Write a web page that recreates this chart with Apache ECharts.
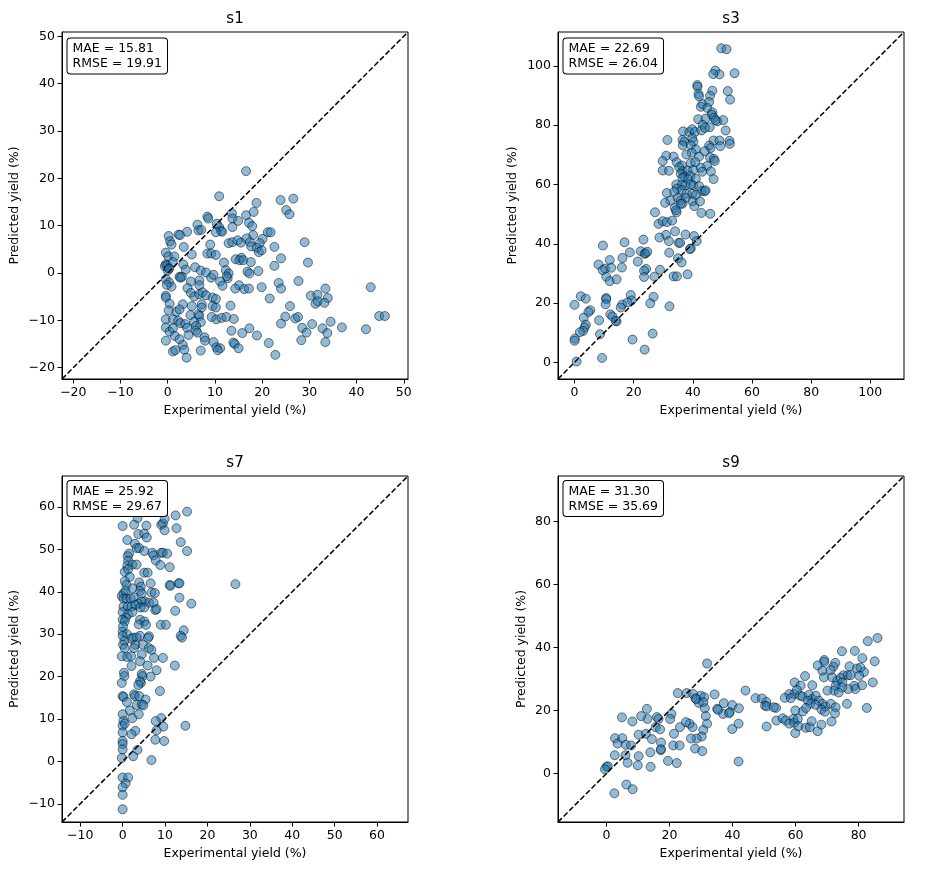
<!DOCTYPE html>
<html>
<head>
<meta charset="utf-8">
<script src="https://cdn.jsdelivr.net/npm/echarts@6/dist/echarts.min.js"></script>
<style>
html,body{margin:0;padding:0;background:#fff;}
#chart{width:938px;height:875px;}
</style>
</head>
<body>
<div id="chart"></div>
<script>
// ---------------- DATA ----------------
const panelNames = ['s1', 's3', 's7', 's9'];
const maeValues = ['15.81', '22.69', '25.92', '31.30'];
const rmseValues = ['19.91', '26.04', '29.67', '35.69'];

const s1Limits = [-22.4, 50.9];
const s3Limits = [-5.6, 111.4];
const s7Limits = [-14.3, 67.3];
const s9Limits = [-15.4, 94.4];

const s1Ticks = [-20, -10, 0, 10, 20, 30, 40, 50];
const s3Ticks = [0, 20, 40, 60, 80, 100];
const s7Ticks = [-10, 0, 10, 20, 30, 40, 50, 60];
const s9Ticks = [0, 20, 40, 60, 80];

// [experimental yield, predicted yield]
const s1Points = [[16.6,21.5],[10.9,16.2],[23.9,15.4],[26.6,15.7],[18.8,14.8],[25.1,13.3],[25.8,12.4],[13.6,12.6],[8.4,11.9],[8.6,11.5],[16.6,12.2],[18.2,12.9],[13.7,11.5],[14.9,11.0],[17.2,10.6],[17.9,9.9],[6.3,10.2],[10.4,10.4],[10.9,9.7],[11.3,8.9],[11.5,8.7],[6.5,9.0],[7.1,9.1],[4.1,8.7],[2.3,8.1],[2.6,8.0],[0.2,7.8],[13.7,9.7],[10.2,8.6],[21.2,8.6],[21.8,8.6],[18.1,8.0],[20.1,7.2],[19.5,6.3],[0.5,6.7],[0.8,6.0],[9.0,6.0],[12.9,6.3],[13.7,6.5],[14.8,6.9],[15.5,6.4],[16.7,7.3],[17.4,6.5],[29.0,6.5],[3.4,5.5],[17.7,5.6],[18.9,5.3],[19.3,4.4],[19.9,4.8],[22.6,5.5],[-0.4,4.3],[0.1,3.5],[1.4,3.5],[5.1,3.9],[8.4,4.1],[9.2,4.1],[10.2,3.8],[14.4,2.9],[15.6,3.2],[15.2,2.7],[16.0,2.7],[17.6,2.3],[24.0,3.1],[29.7,2.2],[-0.4,1.8],[-0.6,1.4],[-0.1,1.6],[0.2,1.0],[1.1,2.3],[3.3,1.8],[3.8,0.7],[5.8,1.2],[7.0,0.5],[8.1,0.1],[11.9,2.2],[12.3,0.6],[12.9,-0.1],[12.7,-1.1],[12.5,-0.7],[16.9,0.3],[17.3,-0.1],[19.2,0.4],[22.6,1.5],[2.5,-0.8],[3.0,-0.8],[2.7,-1.0],[-0.4,-1.3],[0.3,-2.0],[0.8,-2.9],[4.9,-1.8],[6.7,-1.6],[6.7,-2.6],[9.2,-1.0],[9.7,-0.4],[11.1,-1.8],[11.6,-2.7],[15.1,-2.6],[16.2,-3.4],[17.2,-3.3],[14.3,-3.3],[19.9,-3.0],[23.5,-2.1],[24.0,-3.3],[27.7,-1.7],[43.0,-3.0],[4.2,-3.2],[4.9,-4.2],[5.6,-5.0],[6.7,-4.5],[7.4,-4.1],[8.1,-4.7],[9.5,-5.2],[10.2,-5.5],[9.5,-7.0],[10.2,-7.3],[-0.4,-4.8],[-0.4,-5.2],[0.4,-6.5],[3.2,-6.6],[21.6,-5.4],[30.3,-4.8],[31.7,-4.6],[33.4,-3.3],[33.9,-5.3],[31.3,-6.5],[31.8,-6.0],[33.2,-6.3],[25.9,-7.0],[13.3,-6.9],[7.2,-6.6],[7.2,-7.3],[5.1,-7.0],[4.8,-8.9],[1.8,-8.2],[2.5,-7.7],[0.2,-7.9],[6.5,-8.7],[6.7,-9.1],[7.0,-10.4],[5.6,-10.3],[6.0,-11.2],[9.3,-9.3],[10.3,-9.8],[11.4,-9.5],[12.4,-9.3],[14.0,-9.7],[-0.4,-9.8],[-0.4,-11.5],[1.1,-9.8],[2.2,-10.1],[2.7,-10.6],[3.7,-10.8],[4.1,-11.6],[24.0,-10.7],[24.9,-9.2],[27.0,-9.6],[27.6,-9.3],[28.5,-11.6],[29.4,-12.6],[30.6,-10.8],[32.8,-11.7],[33.8,-12.7],[34.5,-10.3],[36.9,-11.5],[42.0,-11.9],[44.8,-9.1],[46.0,-9.1],[17.3,-11.7],[15.8,-12.7],[18.9,-13.2],[13.5,-12.2],[-0.4,-14.3],[0.4,-12.4],[1.1,-11.7],[1.5,-13.3],[2.5,-14.0],[4.4,-13.1],[6.0,-12.2],[6.3,-12.6],[7.8,-13.6],[7.9,-14.3],[9.7,-14.6],[10.3,-15.7],[11.1,-15.9],[10.6,-16.3],[13.9,-14.7],[14.2,-15.0],[15.0,-15.9],[21.4,-14.8],[22.8,-17.3],[28.3,-14.2],[33.4,-14.6],[1.1,-16.6],[1.6,-16.3],[3.2,-15.2],[3.5,-16.2],[4.0,-17.9],[7.0,-16.4],[0.0,0.5],[0.3,0.9],[-0.2,-2.5]];

const s3Points = [[49.6,105.9],[51.4,105.6],[47.6,98.4],[49.0,97.1],[46.9,97.2],[54.1,97.5],[41.5,93.5],[41.6,92.9],[41.9,90.5],[42.1,89.7],[46.6,91.6],[45.8,89.9],[51.8,91.5],[52.6,88.6],[42.7,86.2],[43.3,87.1],[45.5,87.8],[44.9,85.8],[46.6,84.3],[46.4,83.5],[47.1,82.5],[48.3,81.3],[41.8,82.0],[44.3,82.2],[50.3,81.7],[43.3,80.1],[45.7,79.3],[47.7,81.7],[36.7,77.9],[38.8,77.7],[39.8,78.6],[40.7,77.7],[42.9,78.2],[44.1,79.1],[51.1,78.2],[31.4,75.0],[36.5,75.0],[37.1,74.4],[39.8,75.6],[40.2,74.4],[47.0,74.8],[49.0,74.8],[52.4,74.7],[52.5,73.7],[36.6,73.2],[39.3,73.2],[45.5,73.1],[46.0,72.3],[49.3,72.9],[41.0,71.8],[39.6,70.7],[44.0,71.2],[42.1,69.4],[37.8,70.1],[31.0,69.7],[33.5,69.4],[45.8,69.1],[47.1,68.6],[47.4,67.9],[29.8,67.9],[29.8,64.7],[34.5,67.5],[36.3,66.4],[39.3,67.2],[40.8,67.5],[31.9,64.6],[35.4,65.8],[36.5,64.5],[38.2,64.6],[44.8,66.2],[40.1,64.9],[42.7,65.6],[43.2,64.3],[46.1,64.4],[35.9,63.6],[37.1,62.7],[39.2,62.8],[47.0,61.8],[36.5,62.2],[38.5,61.7],[41.0,61.9],[40.1,59.7],[34.4,60.0],[36.3,59.8],[37.6,59.7],[39.3,60.0],[42.1,59.4],[43.0,57.8],[44.0,57.7],[44.3,58.0],[34.6,58.6],[36.3,58.1],[31.2,57.1],[33.7,57.6],[37.8,56.9],[39.8,56.8],[41.0,56.4],[34.9,55.4],[35.9,54.6],[32.4,54.6],[37.6,55.4],[30.6,53.8],[39.9,54.3],[40.5,52.7],[42.4,54.3],[33.9,52.1],[34.5,50.6],[34.3,51.3],[36.5,53.5],[35.9,53.5],[27.2,50.6],[42.9,50.4],[45.9,50.1],[28.4,46.7],[29.8,47.6],[31.2,47.3],[33.0,47.8],[30.9,43.0],[28.7,42.1],[34.0,44.2],[37.5,43.1],[40.4,42.6],[31.9,40.9],[35.2,40.3],[35.7,40.3],[41.3,40.9],[39.3,38.4],[39.0,38.2],[9.6,39.4],[16.9,40.5],[23.3,41.4],[18.7,37.1],[22.4,37.5],[23.7,36.6],[24.0,36.8],[24.6,37.3],[32.0,37.0],[16.2,35.2],[11.9,34.5],[21.4,34.0],[35.0,35.1],[36.2,33.7],[8.1,33.0],[10.3,31.6],[9.5,31.1],[12.4,31.9],[16.0,32.0],[24.2,31.5],[23.5,30.9],[28.9,31.2],[33.5,29.0],[10.7,28.9],[11.9,27.4],[14.2,28.0],[23.5,28.8],[27.0,28.9],[34.6,29.0],[38.2,29.7],[2.1,22.3],[3.8,21.5],[10.7,21.7],[10.7,21.3],[19.0,22.7],[19.3,20.9],[26.7,22.1],[16.1,19.5],[15.6,18.5],[10.5,19.6],[0.0,19.4],[5.3,17.6],[4.7,17.0],[17.9,20.2],[25.6,19.9],[32.1,18.9],[12.1,16.2],[12.8,15.5],[14.2,13.8],[13.9,14.0],[3.1,15.1],[8.3,14.2],[3.8,12.7],[3.4,11.8],[2.9,10.6],[1.8,10.2],[0.1,8.0],[0.0,7.3],[8.6,9.5],[26.4,9.7],[19.6,7.7],[23.7,4.3],[9.3,1.5],[0.7,0.3]];

const s7Points = [[0.0,55.5],[3.5,57.4],[2.7,55.8],[3.7,53.6],[5.6,55.6],[9.1,55.8],[9.5,56.1],[9.9,54.5],[9.9,57.2],[12.5,58.0],[15.2,58.9],[12.7,55.0],[5.1,53.7],[5.7,52.8],[1.1,52.2],[2.9,51.3],[3.3,50.3],[3.9,50.3],[13.7,51.7],[15.2,49.6],[1.5,49.0],[1.2,48.4],[5.1,49.6],[7.0,49.2],[7.3,48.6],[9.1,49.2],[9.5,49.2],[10.5,49.0],[1.3,47.3],[1.1,46.1],[2.3,46.4],[3.3,46.4],[7.8,47.4],[8.9,46.3],[11.1,45.8],[0.5,44.7],[1.3,45.3],[5.1,44.5],[5.9,44.5],[1.7,43.5],[0.5,42.5],[0.9,41.6],[6.6,42.0],[11.1,41.6],[11.3,41.4],[13.2,42.0],[13.4,42.0],[26.6,41.8],[3.9,42.2],[4.3,41.2],[4.1,40.2],[4.5,39.6],[0.2,39.6],[-0.2,39.0],[0.7,40.2],[2.3,40.8],[6.8,39.8],[7.6,39.7],[0.2,38.4],[0.9,38.4],[1.9,38.4],[2.6,38.6],[5.2,37.7],[6.2,37.4],[4.5,37.7],[7.3,37.4],[13.4,38.6],[16.2,37.2],[3.7,37.2],[0.2,36.5],[1.2,36.5],[2.1,36.5],[3.0,36.9],[4.2,36.3],[5.1,36.3],[7.7,35.7],[8.0,35.9],[12.4,35.5],[0.0,35.2],[1.3,34.7],[2.3,35.2],[0.7,33.9],[4.1,33.4],[5.1,33.0],[3.8,32.3],[5.5,32.2],[0.0,33.4],[0.5,33.0],[0.1,31.8],[9.0,32.2],[10.2,32.2],[14.4,30.9],[13.7,29.6],[14.0,29.2],[0.0,30.6],[1.0,30.0],[0.0,29.6],[2.5,29.2],[2.1,28.9],[4.1,29.6],[3.3,29.2],[6.2,29.5],[6.0,29.1],[0.4,28.4],[0.1,27.5],[0.5,26.7],[3.0,27.5],[2.7,26.7],[4.8,27.5],[6.2,26.7],[6.8,26.3],[7.4,24.4],[-0.2,24.8],[1.1,24.6],[2.0,24.8],[4.5,25.2],[4.1,23.6],[2.1,22.5],[9.5,24.4],[12.3,22.6],[5.9,22.6],[8.0,21.5],[0.3,20.9],[0.4,20.1],[-0.2,18.5],[4.5,20.6],[4.7,20.1],[4.3,18.5],[4.1,18.9],[3.7,18.0],[6.6,20.0],[8.8,16.6],[0.0,15.4],[0.2,15.2],[1.0,14.0],[2.7,15.8],[2.9,15.4],[3.9,15.4],[5.4,14.6],[3.3,13.3],[4.5,13.4],[4.9,13.2],[1.7,12.0],[2.3,10.2],[3.8,11.1],[0.0,11.1],[0.2,9.5],[0.0,8.4],[0.5,8.9],[9.1,10.2],[7.8,9.5],[9.6,8.2],[14.8,8.4],[8.0,7.3],[3.0,7.2],[2.1,6.4],[0.0,6.8],[0.0,4.8],[7.7,5.1],[9.8,4.8],[0.0,4.1],[0.0,2.8],[-0.2,0.8],[3.5,2.7],[2.5,1.2],[6.8,0.3],[0.0,-3.8],[1.3,-3.8],[0.7,-5.2],[0.0,-6.1],[0.0,-7.9],[0.0,-11.3]];

const s9Points = [[86.0,43.0],[82.9,42.0],[74.7,38.8],[78.8,38.9],[81.2,36.6],[85.1,35.6],[69.1,36.0],[69.1,35.4],[67.0,34.3],[72.6,35.1],[77.1,34.0],[79.5,33.3],[81.7,32.2],[80.6,33.6],[72.0,33.9],[71.1,32.8],[68.5,32.6],[63.0,30.9],[31.9,34.9],[75.2,31.2],[76.5,31.1],[77.4,31.2],[80.2,31.0],[69.0,30.5],[71.6,30.5],[73.2,29.4],[74.3,30.3],[74.8,28.9],[59.7,28.9],[61.6,27.9],[65.3,28.0],[81.1,28.0],[84.5,28.9],[78.6,27.8],[79.0,26.8],[76.7,26.8],[72.7,27.8],[74.8,27.3],[72.2,26.3],[70.1,26.3],[73.7,25.7],[44.1,26.3],[22.6,25.5],[25.4,25.5],[27.5,25.2],[29.9,24.7],[34.3,25.1],[28.2,23.8],[29.3,22.4],[28.5,23.6],[31.0,24.2],[30.7,22.6],[58.0,25.2],[59.6,25.2],[60.4,26.5],[61.4,24.7],[56.6,24.0],[58.5,23.9],[62.2,24.4],[64.3,25.0],[65.3,23.6],[66.4,24.7],[67.4,23.1],[68.5,22.1],[69.5,21.2],[63.9,23.1],[64.7,22.1],[66.4,21.8],[68.2,20.3],[76.3,22.1],[82.6,20.8],[71.2,22.1],[72.7,21.0],[69.3,19.6],[47.3,23.9],[49.3,23.8],[50.7,22.7],[50.3,21.5],[50.9,21.3],[53.8,20.8],[53.1,21.0],[37.2,22.3],[39.9,21.7],[42.0,20.7],[39.1,19.5],[37.0,18.9],[38.9,19.1],[31.2,20.7],[31.5,18.2],[35.1,20.5],[35.4,20.2],[62.3,19.7],[63.3,20.8],[59.9,20.0],[59.3,17.3],[53.9,16.8],[55.9,17.5],[56.9,16.8],[58.0,15.8],[59.6,16.1],[59.9,12.8],[60.7,17.3],[60.9,15.0],[63.2,14.5],[64.5,14.7],[65.1,16.6],[67.0,13.4],[68.2,15.5],[71.4,16.5],[72.5,19.1],[50.8,14.9],[39.9,14.1],[41.9,15.8],[41.9,3.8],[31.9,15.8],[30.7,13.8],[30.2,11.7],[28.6,11.1],[27.3,14.7],[26.3,15.8],[25.2,16.3],[26.8,11.1],[28.1,7.9],[30.4,7.1],[23.3,14.7],[21.4,12.6],[21.2,8.9],[23.2,8.9],[19.5,4.0],[22.3,3.3],[20.6,18.9],[20.2,17.3],[16.0,17.9],[16.5,17.3],[15.6,14.7],[17.0,14.0],[12.8,20.5],[13.0,17.3],[11.0,18.2],[8.2,16.5],[4.9,17.8],[10.2,12.3],[12.5,12.6],[14.4,10.9],[17.3,9.8],[17.2,7.4],[13.9,6.7],[17.3,7.7],[10.2,5.5],[9.9,2.6],[14.0,2.1],[2.7,11.2],[3.5,9.5],[5.0,11.2],[6.1,9.1],[7.8,8.9],[6.0,5.8],[6.7,3.4],[2.6,5.8],[0.0,2.1],[0.4,2.3],[-0.5,1.3],[6.3,-3.5],[8.3,-5.0],[2.5,-6.3]];

// ---------------- CHART ----------------
const allPoints = [s1Points, s3Points, s7Points, s9Points];
const allLimits = [s1Limits, s3Limits, s7Limits, s9Limits];
const allTicks = [s1Ticks, s3Ticks, s7Ticks, s9Ticks];

const FONT = 'DejaVu Sans';
const grids = [
  {left: 62, top: 32, width: 346, height: 347},
  {left: 558, top: 32, width: 346, height: 347},
  {left: 62, top: 476, width: 346, height: 346},
  {left: 558, top: 476, width: 346, height: 346}
];
const yNameGaps = [41, 39, 41, 30];

const fmt = v => (v < 0 ? '\u2212' + Math.abs(v) : String(v));

const chart = echarts.init(document.getElementById('chart'), null, {renderer: 'canvas'});

const xAxes = [], yAxes = [], series = [], graphics = [];
grids.forEach((g, i) => {
  const lim = allLimits[i];
  const ticks = allTicks[i];
  const common = {
    type: 'value', gridIndex: i, min: lim[0], max: lim[1],
    nameLocation: 'middle',
    nameTextStyle: {fontFamily: FONT, fontSize: 12.5, color: '#000'},
    axisLine: {show: true, onZero: false, lineStyle: {color: '#000', width: 1}},
    axisTick: {show: true, inside: false, length: 4.5, lineStyle: {color: '#000', width: 1}, customValues: ticks},
    axisLabel: {show: true, customValues: ticks, fontFamily: FONT, fontSize: 12.5, color: '#000', margin: 7, formatter: fmt},
    splitLine: {show: false}
  };
  xAxes.push(Object.assign({}, common, {name: 'Experimental yield (%)', nameGap: 25}));
  yAxes.push(Object.assign({}, common, {name: 'Predicted yield (%)', nameGap: yNameGaps[i]}));

  series.push({
    type: 'scatter', xAxisIndex: i, yAxisIndex: i,
    data: allPoints[i], symbol: 'circle', symbolSize: 9,
    itemStyle: {color: '#1f77b4', borderColor: '#000', borderWidth: 1, opacity: 0.5},
    emphasis: {disabled: true}, silent: true, z: 2
  });
  series.push({
    type: 'line', xAxisIndex: i, yAxisIndex: i,
    data: [[lim[0], lim[0]], [lim[1], lim[1]]],
    symbol: 'none', silent: true, z: 3,
    lineStyle: {color: '#000', width: 1.5, type: [5.5, 2.4]}
  });

  graphics.push({
    type: 'text', x: g.left + g.width / 2, y: g.top - 13, z: 100,
    style: {text: panelNames[i], font: '15px "DejaVu Sans"', fill: '#000', align: 'center', verticalAlign: 'middle'}
  });
  graphics.push({
    type: 'text', x: g.left + 5.5, y: g.top + (i < 2 ? 6.5 : 5), z: 100,
    style: {
      text: 'MAE = ' + maeValues[i] + '\nRMSE = ' + rmseValues[i],
      font: '12.5px "DejaVu Sans"', fill: '#000', lineHeight: 15,
      backgroundColor: '#fff', borderColor: '#000', borderWidth: 1, borderRadius: 3,
      padding: [3, 5, 2, 5]
    }
  });
});

chart.setOption({
  animation: false,
  backgroundColor: '#fff',
  grid: grids.map(g => Object.assign({show: true, borderColor: '#000', borderWidth: 1, backgroundColor: 'transparent'}, g)),
  xAxis: xAxes,
  yAxis: yAxes,
  series: series,
  graphic: graphics
});
</script>
</body>
</html>
